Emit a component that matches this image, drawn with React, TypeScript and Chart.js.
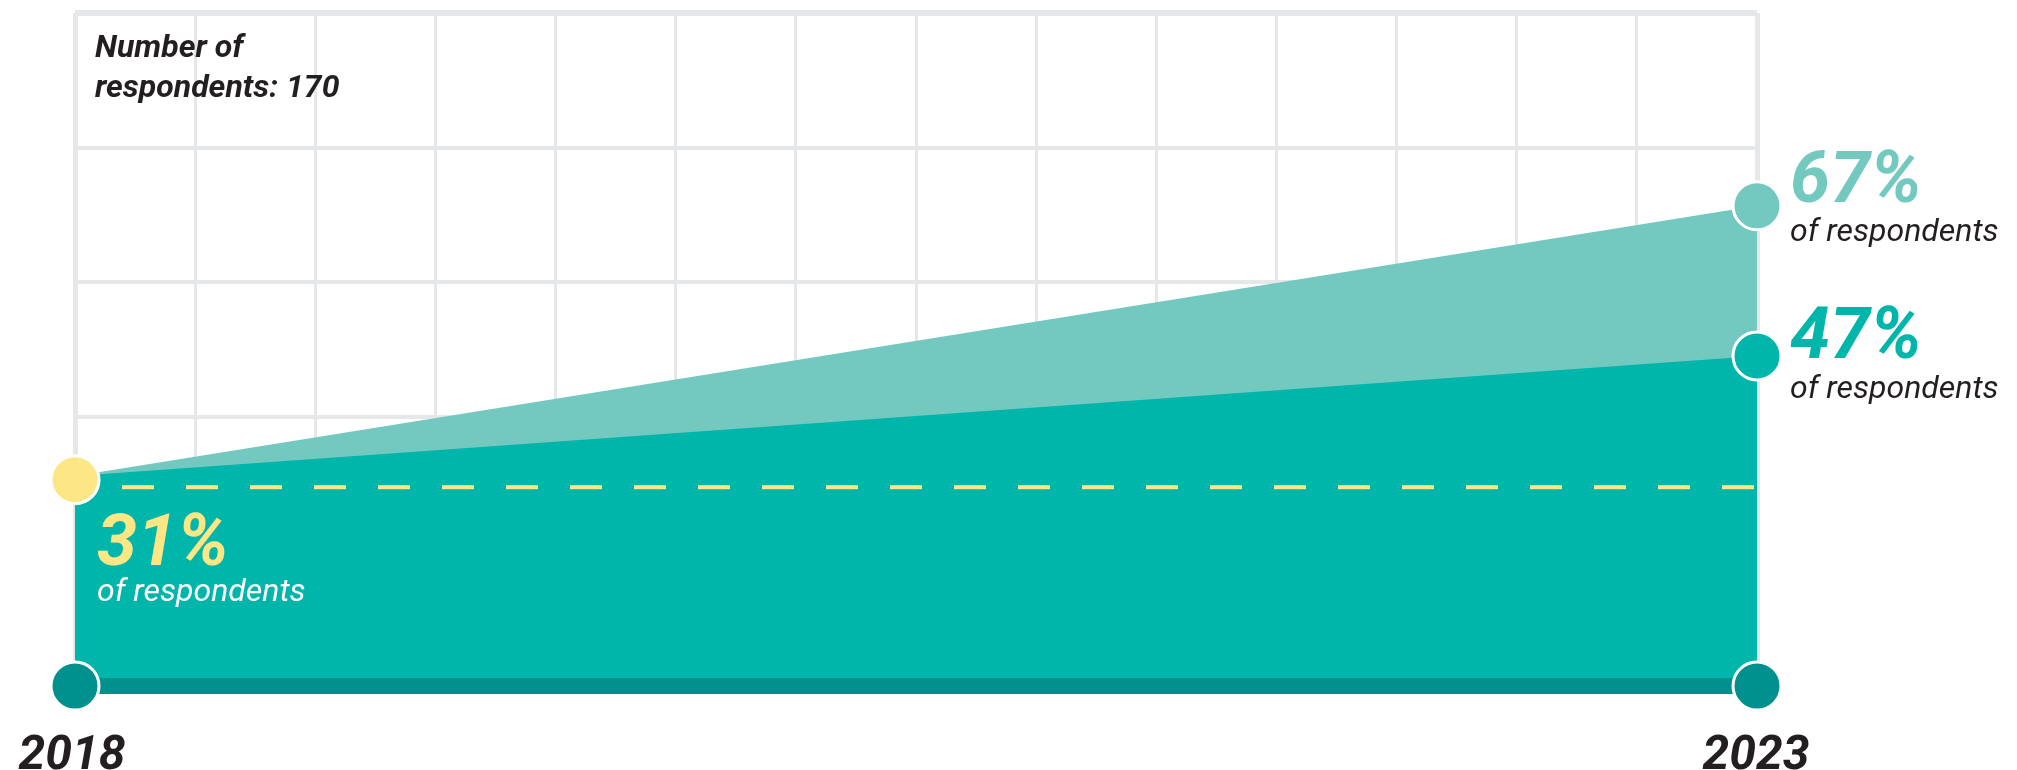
import React, { useEffect, useRef } from 'react';
import { Chart, registerables } from 'chart.js';

Chart.register(...registerables);

// ---- data ----
const years = [2018, 2023];
const yearLabels = ['2018', '2023'];
const upperShare = [31, 67]; // light teal series
const lowerShare = [31, 47]; // teal series
const startShare = [30.5, null]; // yellow 2018 marker
const referenceLevel = [29.5, 29.5]; // dashed yellow reference line
const baseLevel = [3, 3]; // dark teal base band
const percentLabels = ['31%', '67%', '47%'];
const subLabel = 'of respondents';
const noteLines = ['Number of', 'respondents: 170'];
const yMin = 3;
const yMax = 92.7;
const xGridCount = 15;
const yGridCount = 6;

// ---- style ----
const LIGHT_TEAL = '#73C9C0';
const TEAL = '#00B5AA';
const DARK_TEAL = '#00918E';
const YELLOW = '#FDE784';
const GRID = '#E6E7E8';
const DARK_TEXT = '#231F20';

const labelPlugin = {
  id: 'customLabels',
  afterDraw(chart: any) {
    const { ctx, chartArea, scales } = chart;
    const x = scales.x;
    const y = scales.y;
    const xs = x.getPixelForValue(years[0]);
    const xe = x.getPixelForValue(years[1]);
    ctx.save();
    ctx.textBaseline = 'alphabetic';
    ctx.textAlign = 'left';

    ctx.fillStyle = DARK_TEXT;
    ctx.font = 'italic 700 32px Roboto';
    ctx.fillText(noteLines[0], xs + 20, chartArea.top + 44);
    ctx.fillText(noteLines[1], xs + 20, chartArea.top + 84);

    const y31 = y.getPixelForValue(upperShare[0]);
    ctx.font = 'italic 700 72px Roboto';
    ctx.fillStyle = YELLOW;
    ctx.fillText(percentLabels[0], xs + 22, y31 + 89);
    ctx.font = 'italic 400 32px Roboto';
    ctx.fillStyle = '#FFFFFF';
    ctx.fillText(subLabel, xs + 22, y31 + 125);

    const y67 = y.getPixelForValue(upperShare[1]);
    const y47 = y.getPixelForValue(lowerShare[1]);
    ctx.font = 'italic 700 72px Roboto';
    ctx.fillStyle = LIGHT_TEAL;
    ctx.fillText(percentLabels[1], xe + 33, y67 - 4);
    ctx.fillStyle = TEAL;
    ctx.fillText(percentLabels[2], xe + 33, y47 + 2);
    ctx.font = 'italic 400 32px Roboto';
    ctx.fillStyle = DARK_TEXT;
    ctx.fillText(subLabel, xe + 33, y67 + 35);
    ctx.fillText(subLabel, xe + 33, y47 + 42);

    ctx.font = 'italic 700 48px Roboto';
    ctx.fillStyle = DARK_TEXT;
    ctx.textAlign = 'center';
    ctx.fillText(yearLabels[0], xs - 3, chartArea.bottom + 83);
    ctx.fillText(yearLabels[1], xe - 1, chartArea.bottom + 83);
    ctx.restore();
  },
};

const toPoints = (vals: (number | null)[]) => years.map((yr, i) => ({ x: yr, y: vals[i] }));

export default function App() {
  const canvasRef = useRef<HTMLCanvasElement | null>(null);

  useEffect(() => {
    document.body.style.margin = '0';
    document.body.style.overflow = 'hidden';
    const canvas = canvasRef.current;
    if (!canvas) return;
    const chart = new Chart(canvas, {
      type: 'line',
      data: {
        datasets: [
          {
            label: 'upper',
            data: toPoints(upperShare),
            order: 5,
            borderWidth: 0,
            borderColor: LIGHT_TEAL,
            backgroundColor: LIGHT_TEAL,
            fill: 'start',
            pointRadius: [0, 24],
            pointBackgroundColor: LIGHT_TEAL,
            pointBorderColor: '#FFFFFF',
            pointBorderWidth: 3,
            clip: false,
          },
          {
            label: 'lower',
            data: toPoints(lowerShare),
            order: 4,
            borderWidth: 0,
            borderColor: TEAL,
            backgroundColor: TEAL,
            fill: 'start',
            pointRadius: [0, 24],
            pointBackgroundColor: TEAL,
            pointBorderColor: '#FFFFFF',
            pointBorderWidth: 3,
            clip: false,
          },
          {
            label: 'base',
            data: toPoints(baseLevel),
            order: 3,
            borderWidth: 16,
            borderColor: DARK_TEAL,
            backgroundColor: DARK_TEAL,
            fill: false,
            pointRadius: 24,
            pointBackgroundColor: DARK_TEAL,
            pointBorderColor: '#FFFFFF',
            pointBorderWidth: 3,
            clip: false,
          },
          {
            label: 'reference',
            data: toPoints(referenceLevel),
            order: 2,
            borderWidth: 4,
            borderColor: YELLOW,
            borderDash: [32, 32],
            borderDashOffset: 17,
            fill: false,
            pointRadius: 0,
            clip: false,
          },
          {
            label: 'start',
            data: toPoints(startShare),
            order: 1,
            borderWidth: 0,
            fill: false,
            pointRadius: 24,
            pointBackgroundColor: YELLOW,
            pointBorderColor: '#FFFFFF',
            pointBorderWidth: 3,
            clip: false,
          },
        ],
      },
      options: {
        responsive: false,
        animation: false,
        events: [],
        layout: { autoPadding: false, padding: { left: 75, right: 260, top: 13, bottom: 84 } },
        plugins: { legend: { display: false }, tooltip: { enabled: false } },
        scales: {
          x: {
            type: 'linear',
            min: years[0],
            max: years[1],
            ticks: { display: false, count: xGridCount },
            grid: {
              color: GRID,
              drawTicks: false,
              lineWidth: (c: any) => (c.index === 0 || c.index === xGridCount - 1 ? 5 : 3),
            },
            border: { display: false },
          },
          y: {
            type: 'linear',
            min: yMin,
            max: yMax,
            ticks: { display: false, count: yGridCount },
            grid: {
              color: GRID,
              drawTicks: false,
              lineWidth: (c: any) => (c.index === yGridCount - 1 ? 6 : 4),
            },
            border: { display: false },
          },
        },
      },
      plugins: [labelPlugin],
    } as any);
    return () => chart.destroy();
  }, []);

  return (
    <div style={{ width: 2017, height: 770 }}>
      <canvas ref={canvasRef} width={2017} height={770} style={{ display: 'block' }} />
    </div>
  );
}
